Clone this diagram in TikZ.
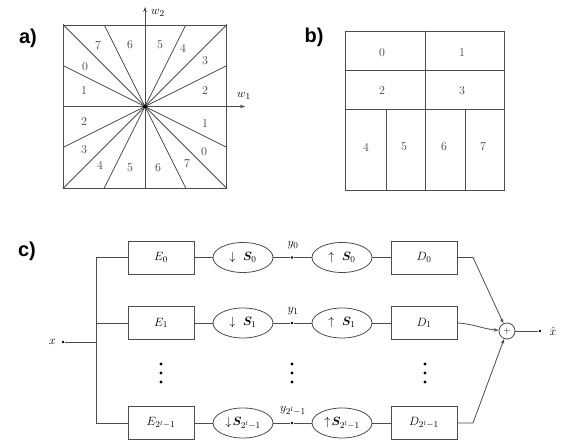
\documentclass[tikz,border=0pt]{standalone}
\usepackage{fontspec}
\usepackage{amsmath,bm}
\newfontfamily\labfont{Liberation Sans}
\usetikzlibrary{arrows.meta,shapes.geometric,calc}
\begin{document}
\begin{tikzpicture}[x=1pt,y=-1pt,
  ln/.style={draw=black!70,line width=0.8pt},
  panel/.style={font=\labfont\bfseries\fontsize{20}{22}\selectfont,inner sep=0pt},
  num/.style={font=\fontsize{12}{14}\selectfont,text=black!75,inner sep=0pt},
  blk/.style={draw=black!70,line width=0.8pt,minimum width=66pt,minimum height=33pt,inner sep=0pt,font=\fontsize{13}{15}\selectfont},
  ell/.style={draw=black!70,line width=0.8pt,ellipse,minimum width=60pt,minimum height=30pt,inner sep=0pt,font=\fontsize{13}{15}\selectfont},
  pt/.style={circle,fill=black,inner sep=0pt,minimum size=2.8pt},
  tip/.style={-{Stealth[length=5pt,width=3.5pt]}}
]
\useasboundingbox (0,0) rectangle (566,443);
% ---------------- panel a
\node[panel] (la) at (28,38) {a)};
\coordinate (C) at (145,106.5);
\coordinate (tl) at (63.5,25);
\coordinate (tr) at (226.5,25);
\coordinate (bl) at (63.5,188);
\coordinate (br) at (226.5,188);
\draw[ln] (tl) rectangle (br);
\draw[ln] (tl) -- (br);
\draw[ln] (tr) -- (bl);
\draw[ln] (104.25,25) -- (185.75,188);
\draw[ln] (185.75,25) -- (104.25,188);
\draw[ln] (63.5,65.75) -- (226.5,147.25);
\draw[ln] (63.5,147.25) -- (226.5,65.75);
\draw[ln,tip] (63.5,106.5) -- (245,106.5);
\draw[ln,tip] (145,188) -- (145,7);
\node[font=\fontsize{13}{15}\selectfont,inner sep=0pt] (w1) at (244,96) {$w_1$};
\node[font=\fontsize{13}{15}\selectfont,inner sep=0pt] (w2) at (158,13) {$w_2$};
\node[circle,fill=black,inner sep=0pt,minimum size=4pt] (Cd) at (C) {};
\foreach \c in {tl,tr,bl,br} \node[circle,fill=black!70,inner sep=0pt,minimum size=1.8pt] at (\c) {};
\foreach \t/\x/\y in {7/98/46, 6/130/45, 5/160/45, 4/183/48, 3/205/61, 2/205/91, 1/205/124, 0/204/152,
  7/187/164, 6/158/168, 5/130/168, 4/100/165, 3/84/150, 2/84/122, 1/84/91, 0/85/67}
  \node[num] at (\x,\y) {\t};
% ---------------- panel b
\node[panel] (lb) at (314,37) {b)};
\draw[ln] (345,31) rectangle (504,190);
\draw[ln] (345,70) -- (504,70);
\draw[ln] (345,109) -- (504,109);
\draw[ln] (425,31) -- (425,190);
\draw[ln] (386,109) -- (386,190);
\draw[ln] (465,109) -- (465,190);
\foreach \t/\x/\y in {0/382/53, 1/462/53, 2/382/91, 3/462/91, 4/366/147, 5/404/147, 6/444/147, 7/483/147}
  \node[num] at (\x,\y) {\t};
% ---------------- panel c
\node[panel] (lc) at (27,251) {c)};
\node[pt] (xin) at (63,342) {};
\node[font=\fontsize{13}{15}\selectfont,anchor=east,inner sep=1pt] (xl) at (57,342) {$x$};
\coordinate (bus0) at (96,257.5);
\coordinate (busx) at (96,342);
\coordinate (bus2) at (96,423);
\draw[ln] (xin) -- (busx);
\draw[ln] (bus0) -- (bus2);
% rows
\node[blk] (E0) at (161,257.5) {$E_0$};
\node[blk] (E1) at (161,323) {$E_1$};
\node[blk] (E2) at (161,423) {$E_{2^l-1}$};
\node[ell] (A0) at (243,257.5) {$\downarrow\ \bm{S}_0$};
\node[ell] (A1) at (243,323) {$\downarrow\ \bm{S}_1$};
\node[ell] (A2) at (243,423) {$\downarrow\!\bm{S}_{2^l-1}$};
\node[pt] (Y0) at (292,257.5) {};
\node[pt] (Y1) at (292,323) {};
\node[pt] (Y2) at (292,423) {};
\node[font=\fontsize{13}{15}\selectfont,inner sep=0pt] (yl0) at (293,245) {$y_0$};
\node[font=\fontsize{13}{15}\selectfont,inner sep=0pt] (yl1) at (293,311) {$y_1$};
\node[font=\fontsize{13}{15}\selectfont,inner sep=0pt] (yl2) at (293,411) {$y_{2^l-1}$};
\node[ell] (B0) at (342,257.5) {$\uparrow\ \bm{S}_0$};
\node[ell] (B1) at (342,323) {$\uparrow\ \bm{S}_1$};
\node[ell] (B2) at (342,423) {$\uparrow\!\bm{S}_{2^l-1}$};
\node[blk] (D0) at (424,257.5) {$D_0$};
\node[blk] (D1) at (424,323) {$D_1$};
\node[blk] (D2) at (424,423) {$D_{2^l-1}$};
\foreach \i in {0,1,2}{
  \draw[ln] (96,0|-E\i.west) -- (E\i.west);
  \draw[ln] (E\i) -- (A\i);
  \draw[ln] (A\i) -- (Y\i) -- (B\i);
  \draw[ln] (B\i) -- (D\i);
}
\draw[ln] (bus0) -- (E0.west);
\draw[ln] (bus2) -- (E2.west);
% dots
\foreach \x in {161,292,425}
  \foreach \y in {364,373,382}
    \fill (\x,\y) circle (1.6pt);
% sum
\node[circle,draw=black!70,line width=0.8pt,minimum size=16pt,inner sep=0pt,font=\fontsize{9}{10}\selectfont] (sum) at (507,331) {$+$};
\coordinate (k0) at (473,257.5);
\coordinate (k2) at (473,423);
\draw[ln,tip] (D0.east) -- (k0) -- (sum);
\draw[ln,tip] (D1.east) to[out=-3,in=175] (sum);
\draw[ln,tip] (D2.east) -- (k2) -- (sum);
\node[pt] (xo) at (540,331) {};
\draw[ln] (sum) -- (xo);
\node[font=\fontsize{13}{15}\selectfont,inner sep=0pt] (xh) at (553,331) {$\hat{x}$};
\end{tikzpicture}
\end{document}
